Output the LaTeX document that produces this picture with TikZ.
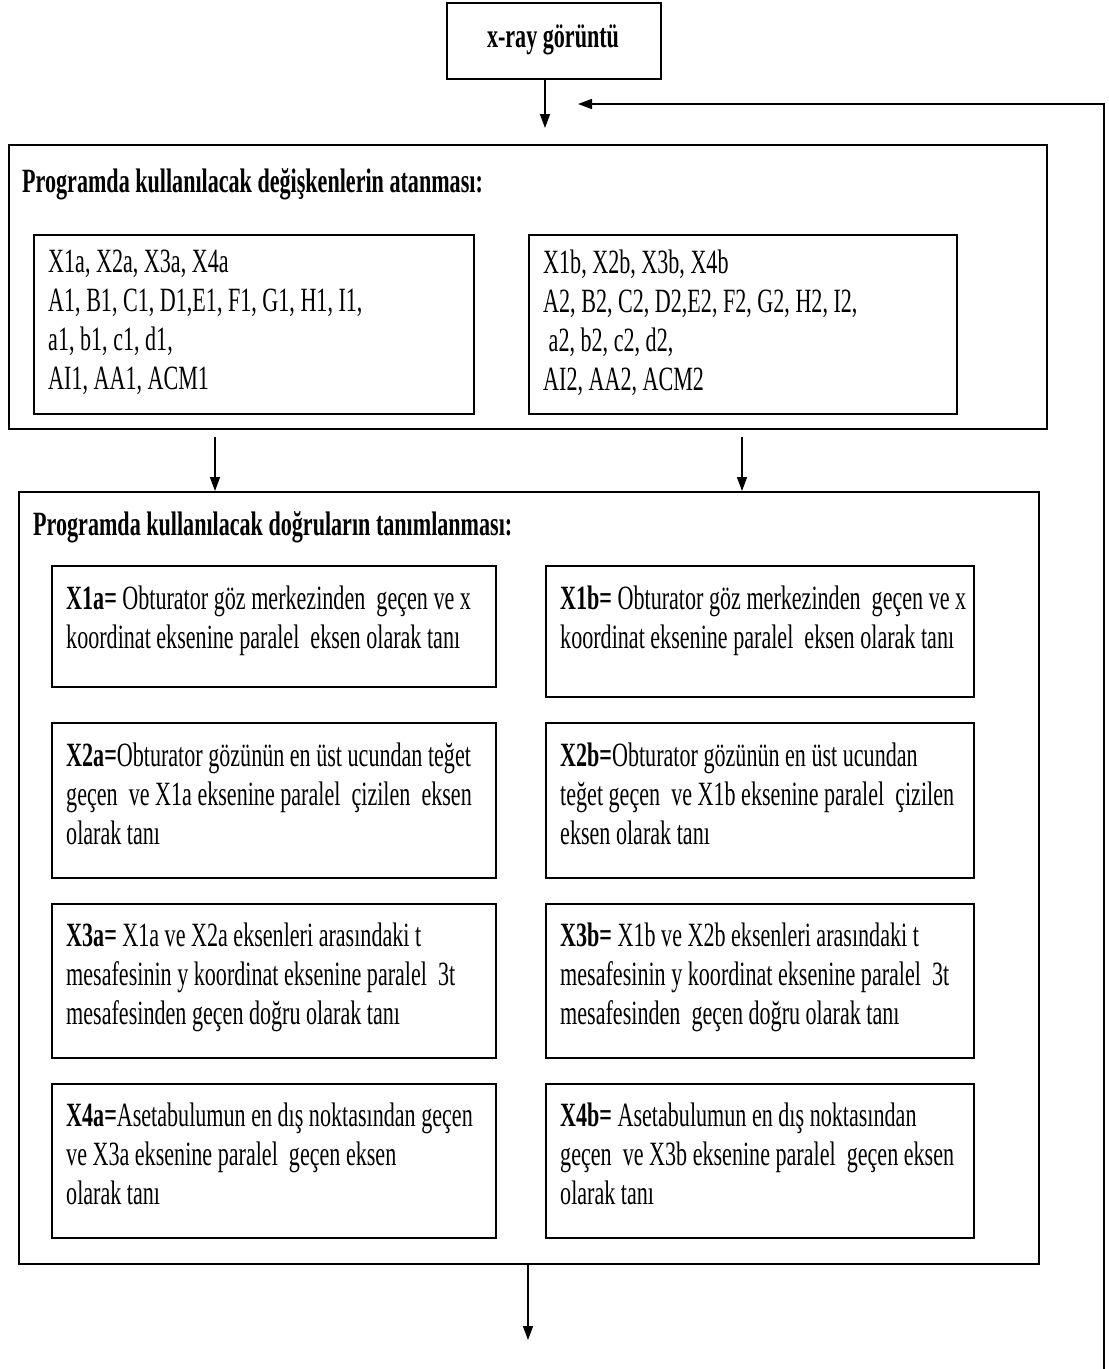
\documentclass[tikz,border=0pt]{standalone}
\usepackage{fontspec}
\setmainfont{Liberation Serif}[FakeStretch=0.65]
\usetikzlibrary{arrows.meta}
\begin{document}
\begin{tikzpicture}[x=1pt,y=-1pt,
  box/.style={draw, line width=1.6pt, rectangle, inner sep=0pt, anchor=north west},
  txt/.style={anchor=north west, inner sep=0pt, align=left, yshift=27pt,
    font=\fontsize{34}{39}\selectfont, execute at begin node={\rule{0pt}{27pt}}},
  ttl/.style={txt, font=\fontsize{34}{39}\selectfont\bfseries},
  arr/.style={line width=1.4pt, -{Triangle[length=14pt,width=10pt]}},
  ln/.style={line width=1.6pt}
]
\useasboundingbox (0,0) rectangle (1109,1369);
% top box
\node[box, minimum width=214pt, minimum height=76pt] (xray) at (446,2) {};
\node[anchor=base, inner sep=0pt, font=\fontsize{34}{39}\selectfont\bfseries] (xrayt) at (553,47) {x-ray görüntü};
% outer box 1
\node[box, minimum width=1038pt, minimum height=284pt] (o1) at (8,144) {};
\node[ttl] (t1) at (22,192) {Programda kullanılacak değişkenlerin atanması:};
\node[box, minimum width=440pt, minimum height=179pt] (vL) at (33,234) {};
\node[box, minimum width=428pt, minimum height=179pt] (vR) at (528,234) {};
\node[txt] (vLt) at (48,277) {X1a, X2a, X3a, X4a\\A1, B1, C1, D1,E1, F1, G1, H1, I1,\\a1, b1, c1, d1,\\AI1, AA1, ACM1};
\node[txt] (vRt) at (543,277) {X1b, X2b, X3b, X4b\\A2, B2, C2, D2,E2, F2, G2, H2, I2,\\\ a2, b2, c2, d2,\\AI2, AA2, ACM2};
% outer box 2
\node[box, minimum width=1020pt, minimum height=772pt] (o2) at (18,491) {};
\node[ttl] (t2) at (33,535) {Programda kullanılacak doğruların tanımlanması:};
% definition boxes
\node[box, minimum width=444pt, minimum height=121pt] (d1L) at (51,565) {};
\node[box, minimum width=428pt, minimum height=131pt] (d1R) at (545,565) {};
\node[box, minimum width=444pt, minimum height=155pt] (d2L) at (51,722) {};
\node[box, minimum width=428pt, minimum height=155pt] (d2R) at (545,722) {};
\node[box, minimum width=444pt, minimum height=154pt] (d3L) at (51,903) {};
\node[box, minimum width=428pt, minimum height=154pt] (d3R) at (545,903) {};
\node[box, minimum width=444pt, minimum height=154pt] (d4L) at (51,1083) {};
\node[box, minimum width=428pt, minimum height=154pt] (d4R) at (545,1083) {};
\node[txt] (d1Lt) at (66,613) {\textbf{X1a=} Obturator göz merkezinden\ \ geçen ve x\\koordinat eksenine paralel\ \ eksen olarak tanı};
\node[txt] (d1Rt) at (560,613) {\textbf{X1b=} Obturator göz merkezinden\ \ geçen ve x\\koordinat eksenine paralel\ \ eksen olarak tanı};
\node[txt] (d2Lt) at (66,770) {\textbf{X2a=}Obturator gözünün en üst ucundan teğet\\geçen\ \ ve X1a eksenine paralel\ \ çizilen\ \ eksen\\olarak tanı};
\node[txt] (d2Rt) at (560,770) {\textbf{X2b=}Obturator gözünün en üst ucundan\\teğet geçen\ \ ve X1b eksenine paralel\ \ çizilen\\eksen olarak tanı};
\node[txt] (d3Lt) at (66,950) {\textbf{X3a=} X1a ve X2a eksenleri arasındaki t\\mesafesinin y koordinat eksenine paralel\ \ 3t\\mesafesinden geçen doğru olarak tanı};
\node[txt] (d3Rt) at (560,950) {\textbf{X3b=} X1b ve X2b eksenleri arasındaki t\\mesafesinin y koordinat eksenine paralel\ \ 3t\\mesafesinden\ \ geçen doğru olarak tanı};
\node[txt] (d4Lt) at (66,1130) {\textbf{X4a=}Asetabulumun en dış noktasından geçen\\ve X3a eksenine paralel\ \ geçen eksen\\olarak tanı};
\node[txt] (d4Rt) at (560,1130) {\textbf{X4b=} Asetabulumun en dış noktasından\\geçen\ \ ve X3b eksenine paralel\ \ geçen eksen\\olarak tanı};
% connectors
\coordinate (a1) at (545,128);
\draw[arr] (xray.south -| a1) -- (a1);
\coordinate (fb0) at (1104,1369);
\coordinate (fb1) at (1104,104);
\coordinate (fb2) at (578,104);
\draw[ln] (fb0) -- (fb1) -- (fb2 -| 590,0);
\draw[arr] (fb1) -- (fb2);
\coordinate (s1) at (215,437);
\coordinate (s2) at (742,437);
\draw[arr] (s1) -- (s1 |- o2.north);
\draw[arr] (s2) -- (s2 |- o2.north);
\coordinate (e3) at (528,1340);
\draw[arr] (e3 |- o2.south) -- (e3);
\end{tikzpicture}
\end{document}
